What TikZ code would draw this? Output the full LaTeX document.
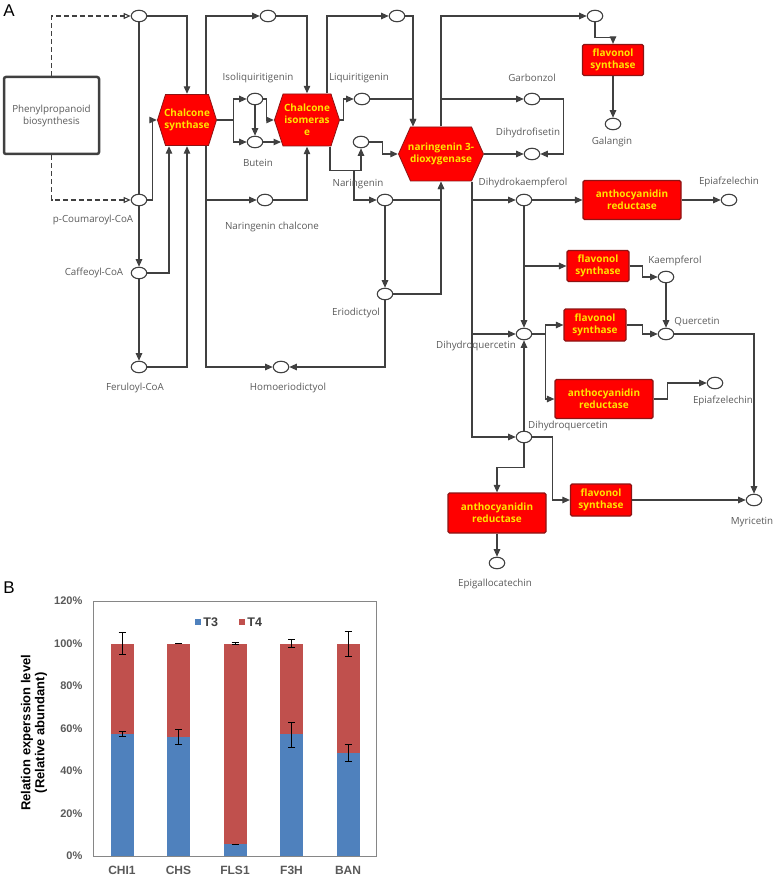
\documentclass[tikz,border=0pt]{standalone}
\usepackage{fontspec}
\usepackage{tikz}
\usetikzlibrary{shapes.geometric}
\usetikzlibrary{arrows.meta}
\usetikzlibrary{positioning}
\newfontfamily\keggfont{Open Sans}
\newfontfamily\chartfont{Liberation Sans}
\definecolor{strich}{RGB}{64,64,64}
\definecolor{textgray}{RGB}{90,90,90}
\definecolor{enzred}{RGB}{255,0,0}
\definecolor{enzdark}{RGB}{140,20,20}
\definecolor{enzyellow}{RGB}{255,228,0}
\definecolor{barblue}{RGB}{79,129,189}
\definecolor{barred}{RGB}{192,80,77}
\definecolor{axisgray}{RGB}{89,89,89}
\definecolor{framegray}{RGB}{134,134,134}
\tikzset{
  met/.style={ellipse, draw=strich, line width=1.1pt, fill=white, minimum width=15.5pt, minimum height=11.5pt, inner sep=0pt},
  conn/.style={draw=strich, line width=1.1pt},
  arr/.style={conn, -{Triangle[length=7.5pt,width=6.5pt]}},
  dasharr/.style={conn, dash pattern=on 5pt off 3pt, -{Triangle[open,length=7pt,width=6pt]}},
  metlabel/.style={text=textgray, font=\keggfont\fontsize{9.8}{11}\selectfont, inner sep=1pt},
  enzbox/.style={rectangle, draw=enzdark, fill=enzred, line width=1.2pt, rounded corners=1.5pt, text=enzyellow, font=\keggfont\bfseries\fontsize{10}{12}\selectfont, align=center, inner sep=0pt},
  hexenz/.style={rectangle, inner sep=0pt, text=enzyellow, font=\keggfont\bfseries\fontsize{10}{12}\selectfont, align=center,
    path picture={\path[fill=enzred, draw=enzdark, line width=0.8pt, line join=miter]
      ([xshift=0.5pt]path picture bounding box.west)
      -- ([xshift=#1, yshift=-0.5pt]path picture bounding box.north west)
      -- ([xshift=-#1, yshift=-0.5pt]path picture bounding box.north east)
      -- ([xshift=-0.5pt]path picture bounding box.east)
      -- ([xshift=-#1, yshift=0.5pt]path picture bounding box.south east)
      -- ([xshift=#1, yshift=0.5pt]path picture bounding box.south west) -- cycle;}},
  panel/.style={font=\chartfont\fontsize{17}{17}\selectfont, inner sep=0pt},
  ticklabel/.style={anchor=east, text=axisgray, font=\chartfont\bfseries\fontsize{11}{12}\selectfont, inner sep=0pt},
  catlabel/.style={text=axisgray, font=\chartfont\bfseries\fontsize{12}{14}\selectfont, inner sep=0pt},
  legtext/.style={text=axisgray!70!black, font=\chartfont\bfseries\fontsize{12.5}{14}\selectfont, inner sep=0pt},
  errbar/.style={black, line width=1pt, {Bar[width=7pt]}-{Bar[width=7pt]}},
}

\begin{document}
\begin{tikzpicture}[x=1pt, y=-1pt]
	\useasboundingbox (0,0) rectangle (777,877);

	\node[panel] (labA) at (9,11) {A};

	% input pathway
	\node[draw=strich, line width=2.5pt, rounded corners=2pt, minimum width=95pt, minimum height=77pt, align=center, text=textgray, font=\keggfont\fontsize{9.8}{12}\selectfont] (pheno) at (51.5,115.5) {Phenylpropanoid\\biosynthesis};

	% metabolites
	\node[met] (ctopa) at (139,16) {};
	\node[met] (pcoum) at (139,200) {};
	\node[met] (caff) at (139,273) {};
	\node[met] (feru) at (139,367) {};
	\node[met] (ctopb) at (268,16) {};
	\node[met] (isoliq) at (255,99) {};
	\node[met] (butein) at (255,142) {};
	\node[met] (nchal) at (265,200) {};
	\node[met] (homoer) at (281,367) {};
	\node[met] (ctopc) at (397,16) {};
	\node[met] (liqui) at (362,99) {};
	\node[met] (cmid) at (361,142) {};
	\node[met] (naring) at (385,200) {};
	\node[met] (erio) at (385,294) {};
	\node[met] (ctopd) at (595,16) {};
	\node[met] (galang) at (613,124) {};
	\node[met] (garbon) at (532,99) {};
	\node[met] (dhfis) at (532,154) {};
	\node[met] (dhk) at (524,200) {};
	\node[met] (epiafa) at (729,200) {};
	\node[met] (kaemp) at (666,277) {};
	\node[met] (querc) at (666,334) {};
	\node[met] (dhqa) at (524,334) {};
	\node[met] (epiafb) at (715,383) {};
	\node[met] (dhqb) at (524,437) {};
	\node[met] (myric) at (754,500) {};
	\node[met] (epigal) at (497,563) {};

	% enzymes
	\node[hexenz=8.5pt, minimum width=60pt, minimum height=52pt] (chs) at (187,120) {Chalcone\\synthase};
	\node[hexenz=9pt, minimum width=66pt, minimum height=53pt] (chi) at (307,120) {Chalcone\\isomeras\\e};
	\node[hexenz=12.5pt, minimum width=86pt, minimum height=55pt] (n3d) at (441,154) {naringenin 3-\\dioxygenase};
	\node[enzbox, minimum width=61pt, minimum height=31pt] (flsa) at (613,60) {flavonol\\synthase};
	\node[enzbox, minimum width=98pt, minimum height=39pt] (arda) at (632,200) {anthocyanidin\\reductase};
	\node[enzbox, minimum width=62pt, minimum height=31pt] (flsb) at (598,266) {flavonol\\synthase};
	\node[enzbox, minimum width=62pt, minimum height=32pt] (flsc) at (595,325) {flavonol\\synthase};
	\node[enzbox, minimum width=98pt, minimum height=39pt] (ardb) at (604,399) {anthocyanidin\\reductase};
	\node[enzbox, minimum width=61pt, minimum height=32pt] (flsd) at (601,500) {flavonol\\synthase};
	\node[enzbox, minimum width=98pt, minimum height=40pt] (ardc) at (497,513) {anthocyanidin\\reductase};

	% connections
	\draw[dasharr] (pheno.north) |- (ctopa);
	\draw[dasharr] (pheno.south) |- (pcoum);
	\draw[conn] (ctopa) -- (pcoum);
	\draw[arr] (ctopa) -| (chs.north);
	\draw[arr] (pcoum.east) -- ++(5,0) |- (chs.west);
	\draw[arr] (pcoum) -- (caff);
	\draw[arr] (caff) -- (feru);
	\draw[arr] (caff) -| ([xshift=-18pt]chs.south);
	\draw[arr] (feru) -| (chs.south);
	\draw[arr] ([xshift=19pt]chs.north) |- (ctopb);
	\draw[arr] (ctopb) -| (chi.north);
	\draw[arr] ([xshift=19pt]chs.south) |- (nchal);
	\draw[arr] ([xshift=19pt]chs.south) |- (homoer);
	\draw[arr] (nchal) -| (chi.south);
	\draw[arr] (chs.east) -- ++(16,0) |- (isoliq);
	\draw[arr] (chs.east) -- ++(16,0) |- (butein);
	\draw[arr] (isoliq) -- (butein);
	\draw[arr] (isoliq.east) -- ++(3,0) |- (chi.west);
	\draw[arr] (butein) -- ([xshift=-26pt]chi.south |- butein);

	\draw[arr] ([xshift=20pt]chi.north) |- (ctopc);
	\draw[arr] (ctopc) -| ([xshift=-28pt]n3d.north);
	\draw[arr] (liqui) -| ([xshift=-28pt]n3d.north);
	\draw[arr] (chi.east) -- ++(3,0) |- (liqui);
	\draw[arr] ([xshift=23pt]chi.south) -- ++(0,24) -| (cmid);
	\draw[arr] ([xshift=23pt]chi.south) -- ++(0,24) -- ++(24,0) |- (naring);
	\draw[arr] (cmid.east) -- ++(13,0) |- (n3d.west);
	\draw[arr] (naring) -| (n3d.south);
	\draw[arr] (naring) -- (erio);
	\draw[arr] (erio) -| (n3d.south);
	\draw[arr] (erio) |- (homoer);

	\draw[arr] (n3d.north) |- (ctopd);
	\draw[arr] (n3d.north) |- (garbon);
	\draw[arr] (n3d.east) -- (dhfis);
	\draw[arr] (garbon.east) -- ++(23,0) |- (dhfis.east);
	\draw[arr] (ctopd.south) -- ++(0,15) -| (flsa.north);
	\draw[arr] (flsa) -- (galang);
	\draw[arr] ([xshift=31pt]n3d.south) |- (dhk);
	\draw[arr] ([xshift=31pt]n3d.south) |- (dhqa);
	\draw[arr] ([xshift=31pt]n3d.south) |- (dhqb);
	\draw[arr] (dhk) -- (arda);
	\draw[arr] (arda) -- (epiafa);
	\draw[arr] (dhk) -- (dhqa);
	\draw[arr] (dhk |- flsb) -- (flsb);
	\draw[arr] (flsb.east) -- ++(13,0) |- (kaemp);
	\draw[arr] (kaemp) -- (querc);
	\draw[arr] (dhqa.east) -- ++(13,0) |- (flsc);
	\draw[arr] (dhqa.east) -- ++(13,0) |- (ardb);
	\draw[arr] (flsc.east) -- ++(16,0) |- (querc);
	\draw[arr] (ardb.east) -- ++(14,0) |- (epiafb);
	\draw[arr] (querc) -| (myric);
	\draw[arr] (dhqb) -- (dhqa);
	\draw[arr] (dhqb.east) -- ++(20,0) |- (flsd);
	\draw[arr] (flsd) -- (myric);
	\draw[arr] (dhqb.south) -- ++(0,24) -| (ardc.north);
	\draw[arr] (ardc) -- (epigal);

	% metabolite names
	\node[metlabel] (lpcoum) at (93,220) {p-Coumaroyl-CoA};
	\node[metlabel] (lcaff) at (94,273) {Caffeoyl-CoA};
	\node[metlabel] (lferu) at (135,388) {Feruloyl-CoA};
	\node[metlabel] (lisoliq) at (258,78) {Isoliquiritigenin};
	\node[metlabel] (lbutein) at (258,163) {Butein};
	\node[metlabel] (lnchal) at (272,227) {Naringenin chalcone};
	\node[metlabel] (lhomoer) at (288,388) {Homoeriodictyol};
	\node[metlabel] (lliqui) at (359,78) {Liquiritigenin};
	\node[metlabel] (lnaring) at (358,184) {Naringenin};
	\node[metlabel] (lerio) at (356,313) {Eriodictyol};
	\node[metlabel] (lgarbon) at (532,78) {Garbonzol};
	\node[metlabel] (ldhfis) at (528,133) {Dihydrofisetin};
	\node[metlabel] (lgalang) at (612,142) {Galangin};
	\node[metlabel] (ldhk) at (523,183) {Dihydrokaempferol};
	\node[metlabel] (lepiafa) at (729,182) {Epiafzelechin};
	\node[metlabel] (lkaemp) at (675,261) {Kaempferol};
	\node[metlabel] (lquerc) at (697,322) {Quercetin};
	\node[metlabel] (ldhqa) at (476,346) {Dihydroquercetin};
	\node[metlabel] (lepiafb) at (723,401) {Epiafzelechin};
	\node[metlabel] (ldhqb) at (568,426) {Dihydroquercetin};
	\node[metlabel] (lmyric) at (752,522) {Myricetin};
	\node[metlabel] (lepigal) at (495,584) {Epigallocatechin};

	% bar chart
	\node[panel] (labB) at (9,588) {B};

	\begin{scope}[shift={(93,856)}, y=2.125pt]
		% CHI1
		\fill[barblue] (17.5,0) rectangle (40.5,57.4);
		\fill[barred] (17.5,57.4) rectangle (40.5,100);
		\draw[errbar] (29,56.1) -- (29,58.8);
		\draw[errbar] (29,94.6) -- (29,105.3);
		\node[catlabel] (cchi) at (29,-6.6) {CHI1};

		% CHS
		\fill[barblue] (74,0) rectangle (97,55.8);
		\fill[barred] (74,55.8) rectangle (97,100);
		\draw[errbar] (85.5,52.2) -- (85.5,59.8);
		\draw[errbar] (85.5,99.8) -- (85.5,100.2);
		\node[catlabel] (cchs) at (85.5,-6.6) {CHS};

		% FLS1
		\fill[barblue] (130.5,0) rectangle (153.5,5.6);
		\fill[barred] (130.5,5.6) rectangle (153.5,100);
		\draw[errbar] (142,5.4) -- (142,5.8);
		\draw[errbar] (142,99.3) -- (142,100.7);
		\node[catlabel] (cfls) at (142,-6.6) {FLS1};

		% F3H
		\fill[barblue] (187,0) rectangle (210,57.4);
		\fill[barred] (187,57.4) rectangle (210,100);
		\draw[errbar] (198.5,50.7) -- (198.5,63.2);
		\draw[errbar] (198.5,97.7) -- (198.5,102.1);
		\node[catlabel] (cfth) at (198.5,-6.6) {F3H};

		% BAN
		\fill[barblue] (243.5,0) rectangle (266.5,48.3);
		\fill[barred] (243.5,48.3) rectangle (266.5,100);
		\draw[errbar] (255,44.4) -- (255,52.6);
		\draw[errbar] (255,93.5) -- (255,106);
		\node[catlabel] (cban) at (255,-6.6) {BAN};

		\draw[framegray, line width=0.8pt] (0,0) rectangle (283,120);

		\node[ticklabel] at (-10.5,0) {0\%};
		\node[ticklabel] at (-10.5,20) {20\%};
		\node[ticklabel] at (-10.5,40) {40\%};
		\node[ticklabel] at (-10.5,60) {60\%};
		\node[ticklabel] at (-10.5,80) {80\%};
		\node[ticklabel] at (-10.5,100) {100\%};
		\node[ticklabel] at (-10.5,120) {120\%};

		% legend
		\node[fill=barblue, minimum size=6pt, inner sep=0pt] (legthree) at (105,110) {};
		\node[legtext, right=2pt of legthree] (legthreetxt) {T3};
		\node[fill=barred, minimum size=6pt, inner sep=0pt] (legfour) at (149,110) {};
		\node[legtext, right=2pt of legfour] (legfourtxt) {T4};

		\node[rotate=90, align=center, font=\chartfont\bfseries\fontsize{13}{14}\selectfont] (ytitle) at (-59,58) {Relation experssion level\\(Relative abundant)};
	\end{scope}

\end{tikzpicture}
\end{document}
